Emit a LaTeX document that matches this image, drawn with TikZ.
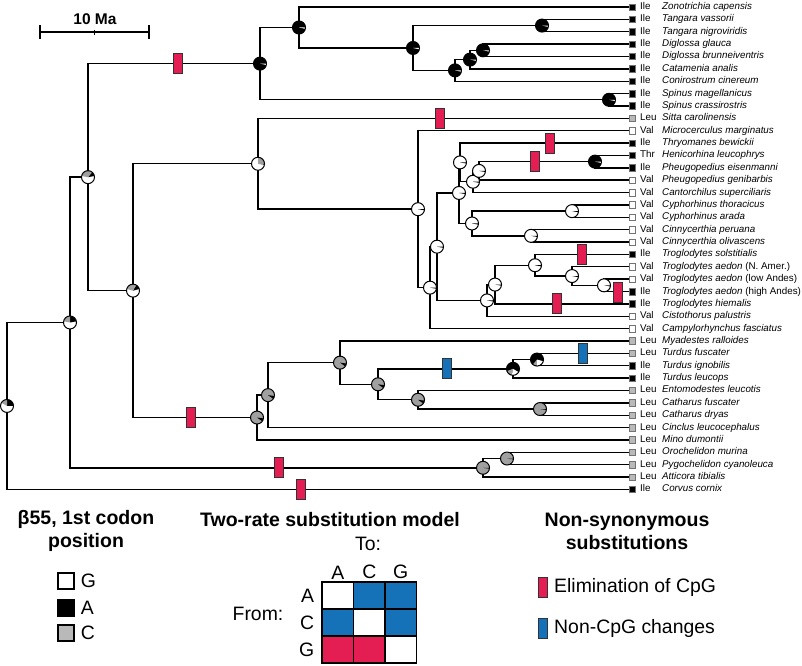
\documentclass[tikz,border=0pt]{standalone}
\usepackage{fontspec}
\setmainfont{Liberation Sans}
\usepackage{xcolor}
\definecolor{cpgred}{RGB}{228,30,82}
\definecolor{ncblue}{RGB}{22,114,184}
\definecolor{stateG}{RGB}{255,255,255}
\definecolor{stateA}{RGB}{0,0,0}
\definecolor{stateC}{RGB}{185,185,185}
\definecolor{piegray}{RGB}{160,160,160}
\usepackage{tikz}
\usetikzlibrary{positioning,calc}
% ancestral state pie on an internal node: coordinate, base colour, slices (visual angles)
\newcommand{\pierad}{6.5}
\newcommand{\pienode}[3]{%
  \fill[#2] (#1) circle (\pierad);
  \foreach \a/\b/\col in {#3} {\fill[\col] (#1) -- ++({-(\a)}:\pierad) arc[start angle={-(\a)}, end angle={-(\b)}, radius=\pierad] -- cycle;}
  \draw[pieline] (#1) circle (\pierad);}

\begin{document}
\begin{tikzpicture}[x=1pt, y=-1pt,
  branch/.style={line width=1.4pt},
  leafsq/.style={draw=black!55, line width=0.5pt, minimum size=6.5pt, inner sep=0pt},
  aaname/.style={anchor=west, inner sep=0pt, text height=7pt, text depth=2pt, font=\fontsize{9.8}{11}\selectfont},
  spname/.style={aaname, font=\fontsize{9.8}{11}\selectfont\itshape},
  pieline/.style={line width=1pt},
  cpgbar/.style={draw=black!80, line width=1pt, fill=cpgred, minimum width=9.5pt, minimum height=20pt, inner sep=0pt},
  ncbar/.style={cpgbar, fill=ncblue},
  legtitle/.style={font=\fontsize{19.5}{23}\selectfont\bfseries, align=center},
  legtext/.style={font=\fontsize{19.4}{23}\selectfont, inner sep=1pt},
  statebox/.style={draw, line width=1.3pt, minimum size=16pt, inner sep=0pt},
  cell/.style={draw, line width=1.3pt, minimum width=31.5pt, minimum height=27pt, inner sep=0pt}]
  \useasboundingbox (0,0) rectangle (802,665);

  % scale bar
  \coordinate (sbl) at (40,32);
  \coordinate (sbr) at (149,32);
  \coordinate (sbm) at ($(sbl)!.5!(sbr)$);
  \draw[branch] (sbl) -- (sbr);
  \draw[branch] ([yshift=7pt]sbl) -- ([yshift=-7pt]sbl);
  \draw[branch] ([yshift=7pt]sbr) -- ([yshift=-7pt]sbr);
  \draw[branch] ([yshift=2.5pt]sbm) -- ([yshift=-2.5pt]sbm);
  \node[font=\fontsize{15.5}{18}\selectfont\bfseries] (sblbl) at (95,19) {10 Ma};

  % tips
  \foreach \i/\aa/\st/\sp in {
    1/Ile/A/Zonotrichia capensis, 2/Ile/A/Tangara vassorii, 3/Ile/A/Tangara nigroviridis,
    4/Ile/A/Diglossa glauca, 5/Ile/A/Diglossa brunneiventris, 6/Ile/A/Catamenia analis,
    7/Ile/A/Conirostrum cinereum, 8/Ile/A/Spinus magellanicus, 9/Ile/A/Spinus crassirostris,
    10/Leu/C/Sitta carolinensis, 11/Val/G/Microcerculus marginatus, 12/Ile/A/Thryomanes bewickii,
    13/Thr/A/Henicorhina leucophrys, 14/Ile/A/Pheugopedius eisenmanni, 15/Val/G/Pheugopedius genibarbis,
    16/Val/G/Cantorchilus superciliaris, 17/Val/G/Cyphorhinus thoracicus, 18/Val/G/Cyphorhinus arada,
    19/Val/G/Cinnycerthia peruana, 20/Val/G/Cinnycerthia olivascens, 21/Ile/A/Troglodytes solstitialis,
    22/Val/G/{Troglodytes aedon \textup{(N. Amer.)}}, 23/Val/G/{Troglodytes aedon \textup{(low Andes)}},
    24/Ile/A/{Troglodytes aedon \textup{(high Andes)}}, 25/Ile/A/Troglodytes hiemalis,
    26/Val/G/Cistothorus palustris, 27/Val/G/Campylorhynchus fasciatus, 28/Leu/C/Myadestes ralloides,
    29/Leu/C/Turdus fuscater, 30/Ile/A/Turdus ignobilis, 31/Ile/A/Turdus leucops,
    32/Leu/C/Entomodestes leucotis, 33/Leu/C/Catharus fuscater, 34/Leu/C/Catharus dryas,
    35/Leu/C/Cinclus leucocephalus, 36/Leu/C/Mino dumontii, 37/Leu/C/Orochelidon murina,
    38/Leu/C/Pygochelidon cyanoleuca, 39/Leu/C/Atticora tibialis, 40/Ile/A/Corvus cornix}{
    \pgfmathsetmacro\yy{7+(\i-1)*12.37}
    \node[leafsq, fill=state\st] (t\i) at (632,\yy) {};
    \node[aaname] (a\i) at (640,\yy) {\aa};
    \node[spname] (s\i) at (662,\yy) {\sp};
  }

  % internal nodes
  \coordinate (root) at (7,405.95);
  \coordinate (osc) at (70,322.47);
  \coordinate (pas) at (88,177.14);
  \coordinate (fin) at (260,63.63);
  \coordinate (zo) at (299,27.49);
  \coordinate (tt) at (413,47.98);
  \coordinate (tg) at (542,25.56);
  \coordinate (co) at (455,70.40);
  \coordinate (ca) at (470,59.58);
  \coordinate (dg) at (483,50.30);
  \coordinate (spn) at (609,99.78);
  \coordinate (core) at (133,290.65);
  \coordinate (sw) at (258,163.76);
  \coordinate (w1) at (418,209.18);
  \coordinate (w2) at (430,287.65);
  \coordinate (w3) at (437,246.68);
  \coordinate (w4) at (459,192.94);
  \coordinate (th) at (460,162.40);
  \coordinate (cs) at (473,181.73);
  \coordinate (pg) at (479,170.90);
  \coordinate (hp) at (595,161.63);
  \coordinate (cc) at (472,223.48);
  \coordinate (cy) at (572,211.11);
  \coordinate (cn) at (531,235.85);
  \coordinate (ci) at (487,300.41);
  \coordinate (tr2) at (495,284.56);
  \coordinate (tr1) at (535,265.23);
  \coordinate (ta1) at (572,276.05);
  \coordinate (ta2) at (604,285.33);
  \coordinate (mu) at (257,417.53);
  \coordinate (cl) at (268,395.11);
  \coordinate (my) at (340,362.64);
  \coordinate (td) at (378,384.29);
  \coordinate (tu1) at (513,368.83);
  \coordinate (tu2) at (537,359.55);
  \coordinate (en) at (418,399.75);
  \coordinate (cat) at (540,409.03);
  \coordinate (hi1) at (483,467.79);
  \coordinate (hi2) at (507,458.51);

  % branches
  \foreach \p/\c in {root/osc, root/t40, osc/pas, osc/hi1, hi1/hi2, hi1/t39, hi2/t37, hi2/t38,
    pas/fin, pas/core, fin/zo, fin/spn, zo/t1, zo/tt, tt/tg, tt/co, tg/t2, tg/t3,
    co/ca, co/t7, ca/dg, ca/t6, dg/t4, dg/t5, spn/t8, spn/t9,
    core/sw, core/mu, sw/t10, sw/w1, w1/t11, w1/w2, w2/w3, w2/t27, w3/w4, w3/ci,
    w4/th, w4/cc, th/t12, th/cs, cs/pg, cs/t16, pg/hp, pg/t15, hp/t13, hp/t14,
    cc/cy, cc/cn, cy/t17, cy/t18, cn/t19, cn/t20, ci/tr2, ci/t26, tr2/tr1, tr2/t25,
    tr1/t21, tr1/ta1, ta1/t22, ta1/ta2, ta2/t23, ta2/t24,
    mu/cl, mu/t36, cl/my, cl/t35, my/t28, my/td, td/tu1, td/en,
    tu1/tu2, tu1/t31, tu2/t29, tu2/t30, en/t32, en/cat, cat/t33, cat/t34}
    \draw[branch] (\p) |- (\c);

  % pies
  \pienode{root}{white}{0/90/black, 90/150/piegray}
  \pienode{osc}{white}{10/90/black, 90/170/piegray}
  \pienode{pas}{white}{10/50/black, 50/170/piegray}
  \pienode{core}{white}{15/60/black, 60/165/piegray}
  \pienode{sw}{white}{-8/0/black, 0/90/piegray}
  \foreach \n in {fin,zo,tt,tg,co,ca,dg,spn,hp} {\pienode{\n}{black}{-12/0/white}}
  \foreach \n in {w1,w2,w3,w4,th,cs,pg,cc,cy,cn,ci,tr2,tr1,ta1,ta2} {\pienode{\n}{white}{-10/0/black}}
  \foreach \n in {mu,cl,my,td,en} {\pienode{\n}{piegray}{-35/-8/black}}
  \foreach \n in {cat,hi1,hi2} {\pienode{\n}{piegray}{-8/0/black}}
  \pienode{tu1}{black}{200/260/piegray, 260/330/white}
  \pienode{tu2}{black}{230/270/piegray, 270/345/white}

  % substitutions on branches
  \node[cpgbar] (r1) at (178,63.63) {};
  \node[cpgbar] (r2) at (440,118.33) {};
  \node[cpgbar] (r3) at (550,143.07) {};
  \node[cpgbar] (r4) at (535,161.63) {};
  \node[cpgbar] (r5) at (582,254.40) {};
  \node[cpgbar] (r6) at (557,303.88) {};
  \node[cpgbar] (r7) at (618,292.5) {};
  \node[cpgbar] (r8) at (191,417.53) {};
  \node[cpgbar] (r9) at (279,467.79) {};
  \node[cpgbar] (r10) at (301,489.43) {};
  \node[ncbar] (b1) at (447,368.83) {};
  \node[ncbar] (b2) at (583,353.36) {};

  % legend: states
  \node[legtitle] (ttlstate) at (86,531) {β55, 1st codon\\position};
  \node[statebox, fill=stateG] (lgG) at (66,581) {};
  \node[statebox, fill=stateA] (lgA) at (66,608) {};
  \node[statebox, fill=stateC] (lgC) at (66,633) {};
  \node[legtext, right=5pt of lgG] (lgGt) {G};
  \node[legtext, right=5pt of lgA] (lgAt) {A};
  \node[legtext, right=5pt of lgC] (lgCt) {C};

  % legend: model
  \node[legtitle] (ttlmodel) at (330,520) {Two-rate substitution model};
  \foreach \r/\c/\fc in {1/1/white, 1/2/ncblue, 1/3/ncblue, 2/1/ncblue, 2/2/white, 2/3/ncblue,
    3/1/cpgred, 3/2/cpgred, 3/3/white}
    \node[cell, fill=\fc] (m\r\c) at ({322+(\c-0.5)*31.5},{582+(\r-0.5)*27}) {};
  \node[legtext, above=1pt of m11] (toA) {A};
  \node[legtext, above=1pt of m12] (toC) {C};
  \node[legtext, above=1pt of m13] (toG) {G};
  \node[legtext] (tolbl) at (368,544) {To:};
  \node[legtext, left=6pt of m11] (frA) {A};
  \node[legtext, left=6pt of m21] (frC) {C};
  \node[legtext, left=6pt of m31] (frG) {G};
  \node[legtext] (frlbl) at (258,614) {From:};

  % legend: substitutions
  \node[legtitle] (ttlsubst) at (627,531) {Non-synonymous\\substitutions};
  \node[cpgbar, minimum width=9pt] (lgcpg) at (543,587) {};
  \node[ncbar, minimum width=9pt] (lgnc) at (543,628) {};
  \node[legtext, right=5pt of lgcpg] (lgcpgt) {Elimination of CpG};
  \node[legtext, right=5pt of lgnc] (lgnct) {Non-CpG changes};
\end{tikzpicture}
\end{document}
